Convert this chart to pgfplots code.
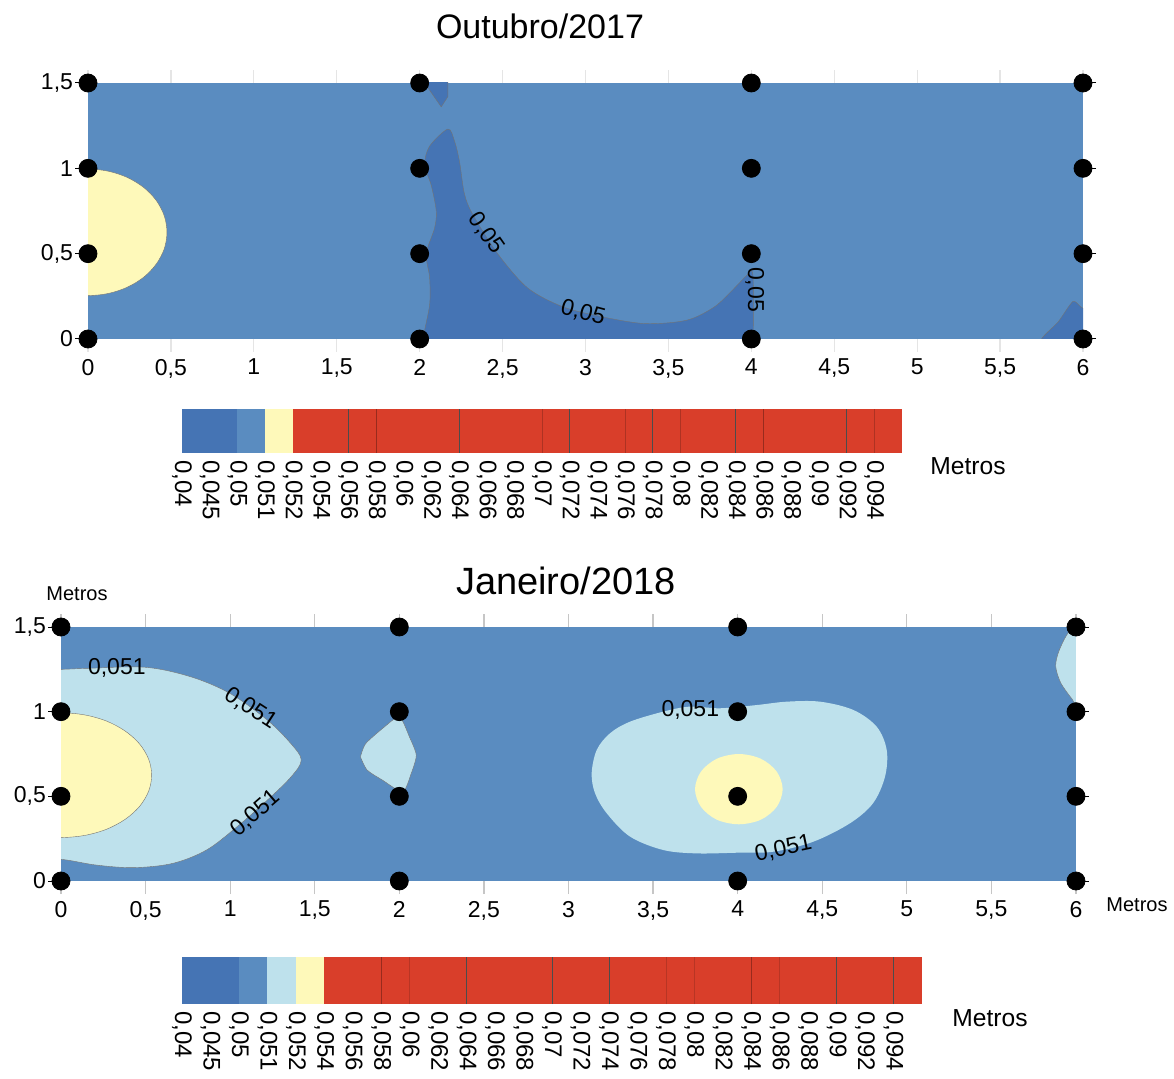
\documentclass[border=0pt]{standalone}
\usepackage{fontspec}
\setmainfont{Liberation Sans}
\usepackage{pgfplots}
\pgfplotsset{compat=1.18}
\definecolor{dblue}{RGB}{69,116,180}
\definecolor{mblue}{RGB}{90,140,192}
\definecolor{lblue}{RGB}{190,225,236}
\definecolor{lyel}{RGB}{254,249,186}
\definecolor{cred}{RGB}{217,62,42}
\tikzset{
 cl/.style={font=\fontsize{11.5}{12}\selectfont, inner sep=1pt},
 bd/.style={draw=black!55, line width=0.2pt},
}
\pgfplotsset{
 mapstyle/.style={scale only axis, anchor=south west, xmin=0,xmax=6,ymin=0,ymax=1.5,
   axis line style={draw=none},
   xtick={0,0.5,...,6}, xticklabels={0,{0,5},1,{1,5},2,{2,5},3,{3,5},4,{4,5},5,{5,5},6},
   ytick={0,0.5,1,1.5}, yticklabels={0,{0,5},1,{1,5}},
   tick label style={font=\fontsize{11.5}{12}\selectfont},
   tick align=outside, major tick length=6.5pt,
   ytick style={draw=black, line width=0.5pt},
   yticklabel style={xshift=2.5pt},
 },
 cbstyle/.style={scale only axis, anchor=south west, xmin=0,xmax=26,ymin=0,ymax=1,
   axis line style={draw=none}, ytick=\empty, xtick={0,...,25},
   xticklabels={{0,04},{0,045},{0,05},{0,051},{0,052},{0,054},{0,056},{0,058},{0,06},{0,062},{0,064},{0,066},{0,068},{0,07},{0,072},{0,074},{0,076},{0,078},{0,08},{0,082},{0,084},{0,086},{0,088},{0,09},{0,092},{0,094}},
   major tick length=0pt, xtick style={draw=none},
   xticklabel style={rotate=-90, anchor=west, font=\fontsize{12}{12}\selectfont},
 },
}
\begin{document}
\begin{tikzpicture}
\path[use as bounding box] (0,0) rectangle (587pt,539pt);
% titles and labels
\node[font=\fontsize{17}{17}\selectfont] at (270pt,526pt) {Outubro/2017};
\node[font=\fontsize{19}{19}\selectfont] at (283pt,248.5pt) {Janeiro/2018};
\node[font=\fontsize{10}{10}\selectfont] at (38.5pt,242pt) {Metros};
\node[font=\fontsize{10}{10}\selectfont] at (568.5pt,86.5pt) {Metros};
\node[font=\fontsize{12.3}{12}\selectfont] at (484pt,306pt) {Metros};
\node[font=\fontsize{12.3}{12}\selectfont] at (495pt,30pt) {Metros};

% ---------- Outubro/2017 ----------
\begin{axis}[mapstyle, at={(44pt,369.5pt)}, width=497.5pt, height=128pt,
  xtick style={draw=gray!20, line width=0.6pt}]
\addplot[fill=mblue, draw=none] coordinates {(0,0)(6,0)(6,1.5)(0,1.5)} --cycle;
\addplot[fill=lyel, bd, smooth, tension=0.55] coordinates {(-0.2,0.996)(0,0.996)(0.123,0.983)(0.238,0.946)(0.337,0.887)(0.412,0.811)(0.460,0.721)(0.476,0.625)(0.460,0.529)(0.412,0.440)(0.337,0.363)(0.238,0.304)(0.123,0.267)(0,0.254)(-0.2,0.254)};
\addplot[fill=dblue, bd] coordinates {(2.03,1.6)(2.03,1.5)(2.08,1.43)(2.13,1.36)(2.17,1.42)(2.17,1.6)};
\addplot[fill=dblue, bd, smooth, tension=0.5] coordinates {(2.02,-0.1)(2.02,0)(2.06,0.2)(2.06,0.36)(2.04,0.5)(2.09,0.65)(2.10,0.75)(2.07,0.9)(2.03,1.02)(2.06,1.13)(2.17,1.23)(2.21,1.16)(2.24,1.04)(2.27,0.85)(2.32,0.73)(2.47,0.50)(2.65,0.30)(2.86,0.19)(3.10,0.13)(3.36,0.09)(3.61,0.11)(3.78,0.19)(3.91,0.31)(3.97,0.37)(4.01,0.37)(4.01,-0.1)};
\addplot[fill=dblue, bd, smooth, tension=0.4] coordinates {(5.75,-0.1)(5.75,0)(5.85,0.1)(5.94,0.22)(6.0,0.18)(6.1,0.18)(6.1,-0.1)};
\addplot[only marks, mark=*, mark size=4.5pt, black] coordinates {(0,0)(0,0.5)(0,1)(0,1.5)(2,0)(2,0.5)(2,1)(2,1.5)(4,0)(4,0.5)(4,1)(4,1.5)(6,0)(6,0.5)(6,1)(6,1.5)};
\node[cl, rotate=-55] at (axis cs:2.40,0.62) {0,05};
\node[cl, rotate=-15] at (axis cs:2.985,0.155) {0,05};
\node[cl, rotate=-90] at (axis cs:4.02,0.29) {0,05};
\end{axis}

% ---------- colorbar 1 ----------
\begin{axis}[cbstyle, at={(91pt,312.5pt)}, width=360pt, height=22pt]
\addplot[fill=dblue, draw=none] coordinates {(0,0)(2,0)(2,1)(0,1)} --cycle;
\addplot[fill=mblue, draw=none] coordinates {(2,0)(3,0)(3,1)(2,1)} --cycle;
\addplot[fill=lyel, draw=none] coordinates {(3,0)(4,0)(4,1)(3,1)} --cycle;
\addplot[fill=cred, draw=none] coordinates {(4,0)(26,0)(26,1)(4,1)} --cycle;
\addplot[black!70, line width=0.4pt] coordinates {(6,0)(6,1)};
\addplot[black!70, line width=0.4pt] coordinates {(10,0)(10,1)};
\addplot[black!70, line width=0.4pt] coordinates {(14,0)(14,1)};
\addplot[black!70, line width=0.4pt] coordinates {(17,0)(17,1)};
\addplot[black!70, line width=0.4pt] coordinates {(24,0)(24,1)};
\addplot[black!70, line width=0.4pt] coordinates {(20,0)(20,1)};
\addplot[cred!70!black, line width=0.3pt] coordinates {(7,0)(7,1)};
\addplot[cred!80!black, line width=0.3pt] coordinates {(13,0)(13,1)};
\addplot[cred!80!black, line width=0.3pt] coordinates {(16,0)(16,1)};
\addplot[cred!80!black, line width=0.3pt] coordinates {(18,0)(18,1)};
\addplot[cred!70!black, line width=0.3pt] coordinates {(21,0)(21,1)};
\addplot[cred!80!black, line width=0.3pt] coordinates {(25,0)(25,1)};
\end{axis}

% ---------- Janeiro/2018 ----------
\begin{axis}[mapstyle, at={(30.5pt,98.5pt)}, width=507.5pt, height=127pt,
  xtick style={draw=gray!45, line width=0.6pt}]
\addplot[fill=mblue, draw=none] coordinates {(0,0)(6,0)(6,1.5)(0,1.5)} --cycle;
\addplot[fill=lblue, bd, smooth, tension=0.55] coordinates {(-0.2,1.25)(0,1.25)(0.16,1.256)(0.5,1.262)(0.77,1.205)(1.0,1.107)(1.22,0.95)(1.36,0.81)(1.42,0.714)(1.36,0.615)(1.22,0.478)(1.04,0.32)(0.86,0.183)(0.66,0.104)(0.43,0.079)(0.21,0.094)(0,0.128)(-0.2,0.128)};
\addplot[fill=lyel, bd, smooth, tension=0.55] coordinates {(-0.2,0.994)(0,0.994)(0.139,0.981)(0.268,0.945)(0.379,0.886)(0.464,0.810)(0.518,0.720)(0.536,0.625)(0.518,0.530)(0.464,0.440)(0.379,0.364)(0.268,0.305)(0.139,0.269)(0,0.256)(-0.2,0.256)};
\addplot[fill=lblue, bd, smooth, tension=0.4] coordinates {(1.77,0.733)(1.80,0.81)(1.90,0.90)(2.0,0.969)(2.06,0.85)(2.10,0.743)(2.07,0.635)(2.02,0.527)(1.90,0.596)(1.81,0.655)(1.77,0.733)};
\addplot[fill=lblue, draw=none, smooth, tension=0.55] coordinates {(3.157,0.518)(3.137,0.636)(3.167,0.774)(3.245,0.872)(3.364,0.941)(3.56,1.0)(3.718,1.03)(3.896,1.02)(4.112,1.039)(4.29,1.059)(4.487,1.059)(4.684,1.01)(4.822,0.911)(4.881,0.774)(4.871,0.616)(4.80,0.459)(4.664,0.341)(4.447,0.232)(4.211,0.173)(3.994,0.167)(3.758,0.163)(3.56,0.183)(3.364,0.262)(3.226,0.40)(3.157,0.518)(3.137,0.636)(3.167,0.774)};
\addplot[fill=lyel, draw=none, smooth, tension=0.55] coordinates {(4.231,0.438)(4.266,0.542)(4.231,0.646)(4.137,0.722)(4.007,0.750)(3.877,0.722)(3.783,0.646)(3.748,0.542)(3.783,0.438)(3.877,0.362)(4.007,0.335)(4.137,0.362)(4.231,0.438)(4.266,0.542)(4.231,0.646)};
\addplot[fill=lblue, bd, smooth, tension=0.5] coordinates {(6.1,1.5)(6.0,1.5)(5.95,1.46)(5.90,1.36)(5.88,1.27)(5.91,1.17)(5.98,1.07)(6.0,1.048)(6.1,1.048)};
\addplot[only marks, mark=*, mark size=4.5pt, black] coordinates {(0,0)(0,0.5)(0,1)(0,1.5)(2,0)(2,0.5)(2,1)(2,1.5)(4,0)(4,0.5)(4,1)(4,1.5)(6,0)(6,0.5)(6,1)(6,1.5)};
\node[cl] at (axis cs:0.33,1.26) {0,051};
\node[cl, rotate=-33] at (axis cs:1.12,1.02) {0,051};
\node[cl, rotate=41] at (axis cs:1.15,0.40) {0,051};
\node[cl] at (axis cs:3.72,1.01) {0,051};
\node[cl, rotate=12] at (axis cs:4.27,0.19) {0,051};
\end{axis}

% ---------- colorbar 2 ----------
\begin{axis}[cbstyle, at={(91pt,37pt)}, width=370pt, height=23.5pt]
\addplot[fill=dblue, draw=none] coordinates {(0,0)(2,0)(2,1)(0,1)} --cycle;
\addplot[fill=mblue, draw=none] coordinates {(2,0)(3,0)(3,1)(2,1)} --cycle;
\addplot[fill=lblue, draw=none] coordinates {(3,0)(4,0)(4,1)(3,1)} --cycle;
\addplot[fill=lyel, draw=none] coordinates {(4,0)(5,0)(5,1)(4,1)} --cycle;
\addplot[fill=cred, draw=none] coordinates {(5,0)(26,0)(26,1)(5,1)} --cycle;
\addplot[black!70, line width=0.4pt] coordinates {(10,0)(10,1)};
\addplot[black!70, line width=0.4pt] coordinates {(13,0)(13,1)};
\addplot[black!70, line width=0.4pt] coordinates {(15,0)(15,1)};
\addplot[black!70, line width=0.4pt] coordinates {(23,0)(23,1)};
\addplot[black!70, line width=0.4pt] coordinates {(25,0)(25,1)};
\addplot[cred!70!black, line width=0.3pt] coordinates {(7,0)(7,1)};
\addplot[cred!70!black, line width=0.3pt] coordinates {(20,0)(20,1)};
\addplot[cred!85!black, line width=0.3pt] coordinates {(8,0)(8,1)};
\addplot[cred!85!black, line width=0.3pt] coordinates {(17,0)(17,1)};
\addplot[cred!85!black, line width=0.3pt] coordinates {(18,0)(18,1)};
\addplot[cred!85!black, line width=0.3pt] coordinates {(21,0)(21,1)};
\end{axis}
\end{tikzpicture}
\end{document}
